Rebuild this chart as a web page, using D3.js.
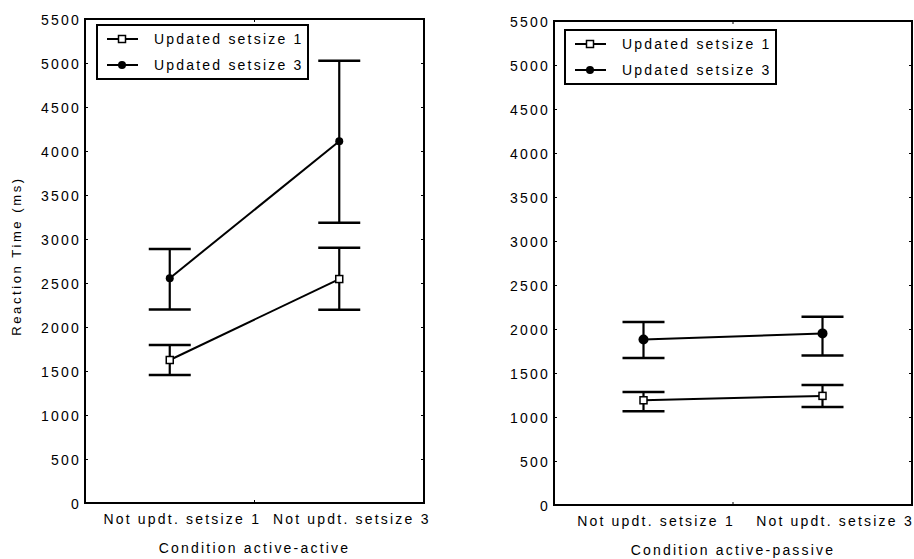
<!DOCTYPE html>
<html>
<head>
<meta charset="utf-8">
<script src="https://cdn.jsdelivr.net/npm/d3@7"></script>
<style>
  body { margin: 0; background: #fff; }
  text { font-family: 'Liberation Sans', Arial, sans-serif; font-size: 14px; letter-spacing: 2.2px; fill: #000; }
</style>
</head>
<body>
<div id="chart"></div>
<script>
const categories = ['Not updt. setsize 1', 'Not updt. setsize 3']
const seriesNames = ['Updated setsize 1', 'Updated setsize 3']
const yTicks = [0, 500, 1000, 1500, 2000, 2500, 3000, 3500, 4000, 4500, 5000, 5500]

// condition active-active
const aaSet1Mean = [1625, 2545]
const aaSet1Low = [1455, 2195]
const aaSet1High = [1795, 2900]
const aaSet3Mean = [2555, 4110]
const aaSet3Low = [2200, 3185]
const aaSet3High = [2885, 5025]

// condition active-passive
const apSet1Mean = [1190, 1240]
const apSet1Low = [1065, 1115]
const apSet1High = [1285, 1365]
const apSet3Mean = [1880, 1950]
const apSet3Low = [1670, 1700]
const apSet3High = [2080, 2140]

const svg = d3.select('#chart')
  .append('svg')
  .attr('width', 914)
  .attr('height', 559)

const panels = [
  {
    title: 'Condition active-active',
    yTitle: 'Reaction Time (ms)',
    left: 85, top: 19, width: 339, height: 484,
    legend: {x: 12, y: 6},
    markerR: 4,
    series: [
      {mean: aaSet1Mean, low: aaSet1Low, high: aaSet1High, filled: false},
      {mean: aaSet3Mean, low: aaSet3Low, high: aaSet3High, filled: true}
    ]
  },
  {
    title: 'Condition active-passive',
    yTitle: null,
    left: 554, top: 21, width: 358, height: 484,
    legend: {x: 11, y: 9},
    markerR: 5,
    series: [
      {mean: apSet1Mean, low: apSet1Low, high: apSet1High, filled: false},
      {mean: apSet3Mean, low: apSet3Low, high: apSet3High, filled: true}
    ]
  }
]

function drawMarker(g, cx, cy, filled, r) {
  if (filled) {
    g.append('circle')
      .attr('cx', cx).attr('cy', cy).attr('r', r)
      .attr('fill', '#000')
  } else {
    g.append('rect')
      .attr('x', cx - 3.5).attr('y', cy - 3.5)
      .attr('width', 7).attr('height', 7)
      .attr('fill', '#fff')
      .attr('stroke', '#000')
      .attr('stroke-width', 1.5)
  }
}

panels.forEach(p => {
  const g = svg.append('g')
    .attr('transform', 'translate(' + p.left + ',' + p.top + ')')

  const x = d3.scaleLinear().domain([0.5, 2.5]).range([0, p.width])
  const y = d3.scaleLinear().domain([0, 5500]).range([p.height, 0])

  // y axis, ticks pointing inward
  const yAxis = d3.axisLeft(y)
    .tickValues(yTicks)
    .tickFormat(d3.format('d'))
    .tickSizeInner(-3)
    .tickSizeOuter(0)
    .tickPadding(4)
  g.append('g').attr('class', 'axis y-axis').call(yAxis)
    .call(a => a.select('.domain').remove())
    .call(a => a.selectAll('text').attr('font-size', null).attr('font-family', null).attr('dy', '0.4em'))

  // ticks on the right side too
  g.append('g')
    .attr('transform', 'translate(' + p.width + ',0)')
    .call(d3.axisRight(y).tickValues(yTicks).tickSizeInner(-3).tickSizeOuter(0).tickFormat(''))
    .call(a => a.select('.domain').remove())

  const xAxis = d3.axisBottom(x)
    .tickValues([1, 2])
    .tickSize(0)
    .tickPadding(11)
    .tickFormat((d, i) => categories[i])
  g.append('g').attr('class', 'axis x-axis')
    .attr('transform', 'translate(0,' + p.height + ')')
    .call(xAxis)
    .call(a => a.select('.domain').remove())
    .call(a => a.selectAll('text').attr('font-size', null).attr('font-family', null).attr('x', 12))

  // small center ticks top and bottom
  g.append('line')
    .attr('x1', x(1.5)).attr('x2', x(1.5))
    .attr('y1', p.height).attr('y2', p.height - 3)
    .attr('stroke', '#000')
  g.append('line')
    .attr('x1', x(1.5)).attr('x2', x(1.5))
    .attr('y1', 0).attr('y2', 3)
    .attr('stroke', '#000')

  // plot frame
  g.append('rect')
    .attr('width', p.width).attr('height', p.height)
    .attr('fill', 'none')
    .attr('stroke', '#000')
    .attr('stroke-width', 2)

  // x title
  g.append('text')
    .attr('x', p.width / 2)
    .attr('y', p.height + 50)
    .attr('text-anchor', 'middle')
    .text(p.title)

  if (p.yTitle) {
    g.append('text')
      .attr('transform', 'translate(' + (16 - p.left) + ',' + (256 - p.top) + ') rotate(-90)')
      .attr('text-anchor', 'middle')
      .attr('dy', '0.35em')
      .style('font-size', '13px')
      .style('letter-spacing', '2.6px')
      .text(p.yTitle)
  }

  // series
  p.series.forEach(s => {
    const pts = s.mean.map((m, i) => ({x: i + 1, m: m, lo: s.low[i], hi: s.high[i]}))

    const bars = g.append('g')
    pts.forEach(d => {
      bars.append('line')
        .attr('x1', x(d.x)).attr('x2', x(d.x))
        .attr('y1', y(d.lo)).attr('y2', y(d.hi))
        .attr('stroke', '#000').attr('stroke-width', 2.2)
      ;[d.lo, d.hi].forEach(v => {
        bars.append('line')
          .attr('x1', x(d.x) - 21).attr('x2', x(d.x) + 21)
          .attr('y1', y(v)).attr('y2', y(v))
          .attr('stroke', '#000').attr('stroke-width', 2.5)
      })
    })

    g.append('path')
      .datum(pts)
      .attr('fill', 'none')
      .attr('stroke', '#000')
      .attr('stroke-width', 2)
      .attr('d', d3.line().x(d => x(d.x)).y(d => y(d.m)))

    pts.forEach(d => drawMarker(g, x(d.x), y(d.m), s.filled, p.markerR))
  })

  // legend
  const lg = g.append('g')
    .attr('transform', 'translate(' + p.legend.x + ',' + p.legend.y + ')')
  lg.append('rect')
    .attr('width', 211).attr('height', 54)
    .attr('fill', '#fff')
    .attr('stroke', '#000')
    .attr('stroke-width', 2)
  seriesNames.forEach((name, i) => {
    const ly = 14 + i * 26
    lg.append('line')
      .attr('x1', 10).attr('x2', 41)
      .attr('y1', ly).attr('y2', ly)
      .attr('stroke', '#000').attr('stroke-width', 2)
    drawMarker(lg, 25, ly, i === 1, 4)
    lg.append('text')
      .attr('x', 57).attr('y', ly)
      .attr('dy', '0.35em')
      .text(name)
  })
})
</script>
</body>
</html>
